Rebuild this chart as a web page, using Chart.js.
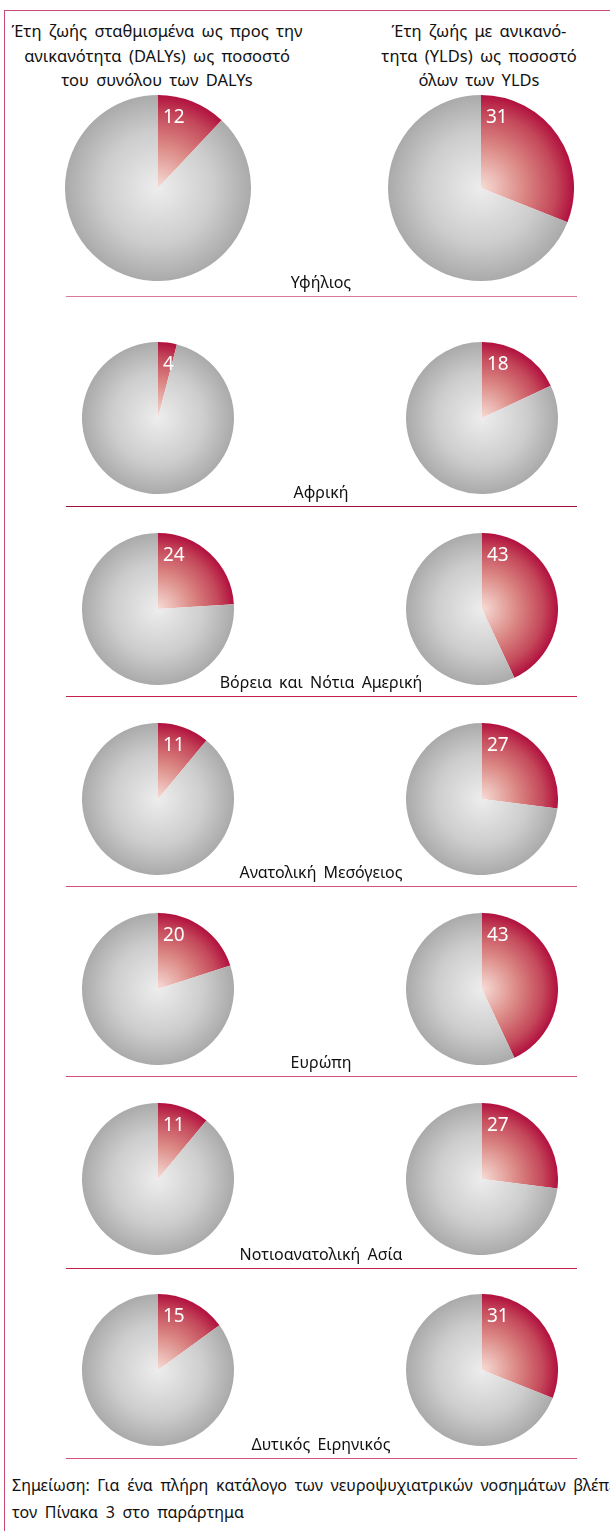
<!DOCTYPE html>
<html>
<head>
<meta charset="utf-8">
<script src="https://cdn.jsdelivr.net/npm/chart.js@4.4.1/dist/chart.umd.min.js"></script>
<style>
    body { margin: 0; background: #fff; }
    #page { position: relative; width: 610px; height: 1531px; overflow: hidden; background: #fff;
        font-family: "Noto Sans", sans-serif; color: #111; }
    .frameTop { position: absolute; left: 4px; top: 10px; width: 606px; height: 0; border-top: 1.5px solid #c84a74; }
    .frameLeft { position: absolute; left: 4px; top: 10px; width: 0; height: 1521px; border-left: 1.5px solid #c84a74; }
    .head { position: absolute; width: 320px; text-align: center; font-size: 16.5px; line-height: 24.5px; word-spacing: 3px; }
    .region { position: absolute; width: 400px; text-align: center; font-size: 16px; word-spacing: 3px; line-height: 20px; }
    .sep { position: absolute; left: 66px; width: 511px; height: 0; border-top: 1.5px solid #d3507c; }
    .note { position: absolute; left: 12px; white-space: nowrap; font-size: 16px; line-height: 27px; word-spacing: 3.5px; }
    canvas { position: absolute; }
</style>
</head>
<body>
<div id="page">
    <div class="frameTop"></div>
    <div class="frameLeft"></div>
    <div class="head" style="left:-3px; top:19px;">Έτη ζωής σταθμισμένα ως προς την<br>ανικανότητα (DALYs) ως ποσοστό<br>του συνόλου των DALYs</div>
    <div class="head" style="left:319px; top:19px;">Έτη ζωής με ανικανό-<br>τητα (YLDs) ως ποσοστό<br>όλων των YLDs</div>
    <div class="note" style="top:1472px;">Σημείωση: Για ένα πλήρη κατάλογο των νευροψυχιατρικών νοσημάτων βλέπε<br>τον Πίνακα 3 στο παράρτημα</div>
</div>
<script>
const regions = ['Υφήλιος', 'Αφρική', 'Βόρεια και Νότια Αμερική', 'Ανατολική Μεσόγειος', 'Ευρώπη', 'Νοτιοανατολική Ασία', 'Δυτικός Ειρηνικός'];
const dalysShare = [12, 4, 24, 11, 20, 11, 15];   // % of all DALYs
const yldsShare = [31, 18, 43, 27, 43, 27, 31];   // % of all YLDs

// layout of the rows
const rowCenterY = [188, 418, 609, 799, 989, 1179, 1370];
const rowRadius = [93, 76, 76, 76, 76, 76, 76];
const sepY = [296, 506, 696, 886, 1076, 1268, 1458];
const sepColor = ['#d97a98', '#9e1238', '#c8204e', '#d3507c', '#d3507c', '#c4204c', '#d3507c'];
const leftX = 158;
const rightX = 482;

const page = document.getElementById('page');

function pieGeometry(chart) {
    const a = chart.chartArea;
    return {
        cx: (a.left + a.right) / 2,
        cy: (a.top + a.bottom) / 2,
        r: Math.min(a.right - a.left, a.bottom - a.top) / 2
    };
}

function sliceFill(context) {
    const chart = context.chart;
    if (!chart.chartArea) return context.dataIndex === 0 ? '#c84a5a' : '#c4c4c4';
    const { cx, cy, r } = pieGeometry(chart);
    const g = chart.ctx.createRadialGradient(cx, cy, 0, cx, cy, r);
    if (context.dataIndex === 0) {
        g.addColorStop(0, '#f7dcd6');
        g.addColorStop(0.45, '#dc8a86');
        g.addColorStop(0.8, '#c4485a');
        g.addColorStop(1, '#b1103e');
    } else {
        g.addColorStop(0, '#ededed');
        g.addColorStop(0.6, '#cdcdcd');
        g.addColorStop(1, '#aaaaaa');
    }
    return g;
}

const valueLabel = {
    id: 'valueLabel',
    afterDatasetsDraw(chart) {
        const arc = chart.getDatasetMeta(0).data[0];
        const { x, y, outerRadius } = arc.getProps(['x', 'y', 'outerRadius'], true);
        const ctx = chart.ctx;
        ctx.save();
        ctx.fillStyle = '#ffffff';
        ctx.font = '19px "Noto Sans"';
        ctx.textBaseline = 'alphabetic';
        ctx.textAlign = 'left';
        ctx.fillText(String(chart.data.datasets[0].data[0]), x + 5, y - outerRadius + 28);
        ctx.restore();
    }
};

function drawPie(cx, cy, r, value) {
    const canvas = document.createElement('canvas');
    canvas.width = 2 * r;
    canvas.height = 2 * r;
    canvas.style.left = (cx - r) + 'px';
    canvas.style.top = (cy - r) + 'px';
    canvas.style.width = 2 * r + 'px';
    canvas.style.height = 2 * r + 'px';
    page.appendChild(canvas);

    new Chart(canvas.getContext('2d'), {
        type: 'pie',
        data: {
            labels: ['share', 'rest'],
            datasets: [{
                data: [value, 100 - value],
                backgroundColor: sliceFill,
                borderWidth: 0
            }]
        },
        options: {
            responsive: false,
            animation: false,
            layout: { padding: 0 },
            plugins: { legend: { display: false }, tooltip: { enabled: false } }
        },
        plugins: [valueLabel]
    });
}

regions.forEach((name, i) => {
    drawPie(leftX, rowCenterY[i], rowRadius[i], dalysShare[i]);
    drawPie(i === 0 ? 481 : rightX, rowCenterY[i], rowRadius[i], yldsShare[i]);

    const label = document.createElement('div');
    label.className = 'region';
    label.textContent = name;
    label.style.left = '121px';
    label.style.top = (sepY[i] - 24) + 'px';
    page.appendChild(label);

    const line = document.createElement('div');
    line.className = 'sep';
    line.style.top = sepY[i] + 'px';
    line.style.borderTopColor = sepColor[i];
    page.appendChild(line);
});
</script>
</body>
</html>
